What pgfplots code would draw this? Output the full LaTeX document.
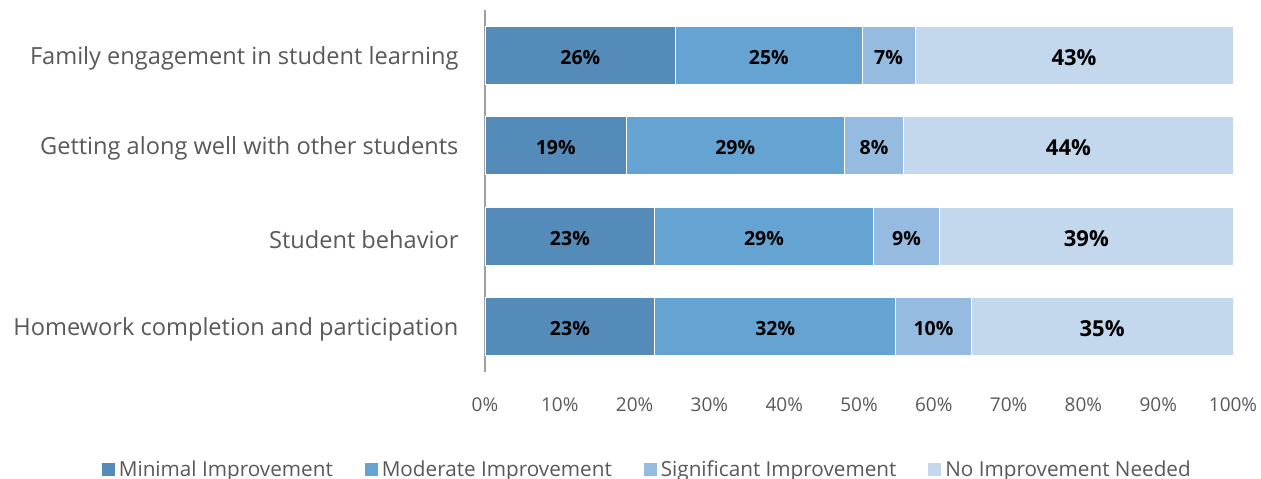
\documentclass[border=0pt]{standalone}
\usepackage{fontspec}
\setmainfont{Open Sans}
\usepackage{pgfplots}
\usepackage{pgfplotstable}
\pgfplotsset{compat=1.18}
\definecolor{cMin}{HTML}{558BB9}
\definecolor{cMod}{HTML}{64A3D2}
\definecolor{cSig}{HTML}{96BBE1}
\definecolor{cNo}{HTML}{C4D8ED}
\definecolor{txtgray}{HTML}{595959}
\definecolor{axgray}{HTML}{A0A0A0}
\pgfplotstableread{
y val lab
0 22.7 23
1 22.7 23
2 18.9 19
3 25.5 26
}\tabMin
\pgfplotstableread{
y val lab
0 32.2 32
1 29.2 29
2 29.1 29
3 24.9 25
}\tabMod
\pgfplotstableread{
y val lab
0 10.1 10
1 8.9 9
2 8.0 8
3 7.1 7
}\tabSig
\pgfplotstableread{
y val lab
0 35.0 35
1 39.2 39
2 44.0 44
3 42.5 43
}\tabNo
\begin{document}
\begin{tikzpicture}
\useasboundingbox (0,0) rectangle (1261bp,479bp);
\begin{axis}[
  at={(485bp,107bp)}, anchor=south west,
  scale only axis, width=748bp, height=362bp,
  xbar stacked, bar width=58bp,
  xmin=0, xmax=100, ymin=-0.5, ymax=3.5,
  /pgf/number format/assume math mode=true,
  axis lines*=left,
  x axis line style={draw=none},
  y axis line style={draw=axgray, line width=1.5bp},
  major tick length=0pt,
  xtick={0,10,...,100},
  xticklabels={0\%,10\%,20\%,30\%,40\%,50\%,60\%,70\%,80\%,90\%,100\%},
  xticklabel style={font=\fontsize{19bp}{22bp}\selectfont, text=txtgray, yshift=-22bp},
  ytick={0,1,2,3},
  yticklabels={Homework completion and participation, Student behavior, Getting along well with other students, Family engagement in student learning},
  yticklabel style={font=\fontsize{23.6bp}{27bp}\selectfont, text=txtgray, xshift=-23bp, yshift=-3bp},
  legend columns=4,
  legend style={draw=none, at={(0.217,-0.268)}, anchor=center,
    font=\fontsize{20.7bp}{24bp}\selectfont, text=txtgray,
    /tikz/every even column/.append style={column sep=30bp},
    /tikz/every odd column/.append style={column sep=2bp}},
  legend image code/.code={\fill[#1,draw=none] (0bp,-6.5bp) rectangle (13bp,6.5bp);},
  nodes near coords={\pgfmathprintnumber{\pgfplotspointmeta}\%},
  point meta=explicit,
  every node near coord/.append style={anchor=center, yshift=-2bp,
    font=\fontsize{19.5bp}{22bp}\selectfont\bfseries, text=black},
]
\addplot[fill=cMin, draw=white, line width=0.8bp] table[x=val, y=y, meta=lab] {\tabMin};
\addlegendentry{Minimal Improvement}
\addplot[fill=cMod, draw=white, line width=0.8bp] table[x=val, y=y, meta=lab] {\tabMod};
\addlegendentry{Moderate Improvement}
\addplot[fill=cSig, draw=white, line width=0.8bp] table[x=val, y=y, meta=lab] {\tabSig};
\addlegendentry{Significant Improvement}
\addplot[fill=cNo, draw=white, line width=0.8bp,
  every node near coord/.append style={font=\fontsize{22bp}{26bp}\selectfont\bfseries}] table[x=val, y=y, meta=lab] {\tabNo};
\addlegendentry{No Improvement Needed}
\end{axis}
\end{tikzpicture}
\end{document}
